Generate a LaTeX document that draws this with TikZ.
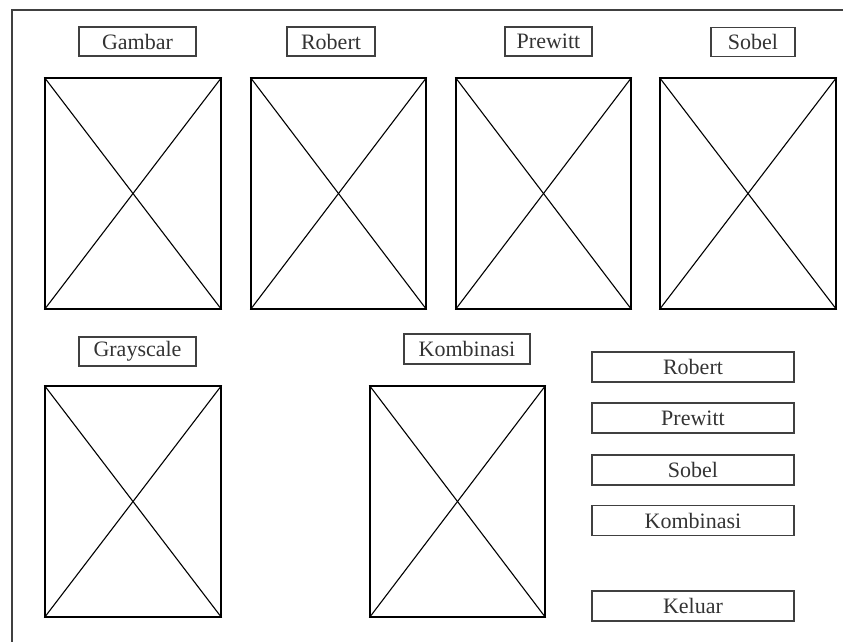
\documentclass[tikz,border=0pt]{standalone}
\usepackage{fontspec}
\setmainfont{Liberation Serif}

\tikzset{
  labelbox/.style={draw=black!75, line width=1.2pt, minimum height=29pt, inner sep=0pt,
    text=black!80, font=\fontsize{22}{24}\selectfont},
  imagebox/.style={draw, line width=1.3pt, minimum width=176pt, minimum height=231pt, inner sep=0pt},
  btnbox/.style={labelbox, minimum width=202pt, minimum height=30pt}
}

\begin{document}
\begin{tikzpicture}[x=1pt,y=-1pt]
\useasboundingbox (0,0) rectangle (843,641);
\clip (0,0) rectangle (843,641);

% outer window
\draw[line width=2pt, black!75] (11.5,9.5) rectangle (860,660);

% top row
\node[labelbox, minimum width=117pt] (lgambar) at (137.5,41.5) {Gambar};
\node[labelbox, minimum width=88pt] (lrobert) at (331,41.5) {Robert};
\node[labelbox, minimum width=87pt] (lprewitt) at (548.5,41.5) {Prewitt};
\node[labelbox, minimum width=84pt] (lsobel) at (753,42) {Sobel};

\node[imagebox] (gambar) at (133,193.5) {};
\node[imagebox, minimum width=175pt] (robert) at (338.5,193.5) {};
\node[imagebox, minimum width=175pt] (prewitt) at (543.5,193.5) {};
\node[imagebox] (sobel) at (748,193.5) {};

% bottom row
\node[labelbox, minimum width=117pt] (lgray) at (137.5,351.5) {Grayscale};
\node[labelbox, minimum width=126pt, minimum height=30pt] (lkombinasi) at (467,349) {Kombinasi};

\node[imagebox] (gray) at (133,501.5) {};
\node[imagebox, minimum width=175pt] (kombinasi) at (457.5,501.5) {};

% crosses
\foreach \img in {gambar,robert,prewitt,sobel,gray,kombinasi}{
  \draw[line width=1.1pt] (\img.north west) -- (\img.south east);
  \draw[line width=1.1pt] (\img.north east) -- (\img.south west);
}

% buttons
\node[btnbox] (brobert) at (693,367) {Robert};
\node[btnbox] (bprewitt) at (693,418) {Prewitt};
\node[btnbox] (bsobel) at (693,470) {Sobel};
\node[btnbox] (bkombinasi) at (693,520.5) {Kombinasi};
\node[btnbox] (bkeluar) at (693,606) {Keluar};
\end{tikzpicture}
\end{document}
